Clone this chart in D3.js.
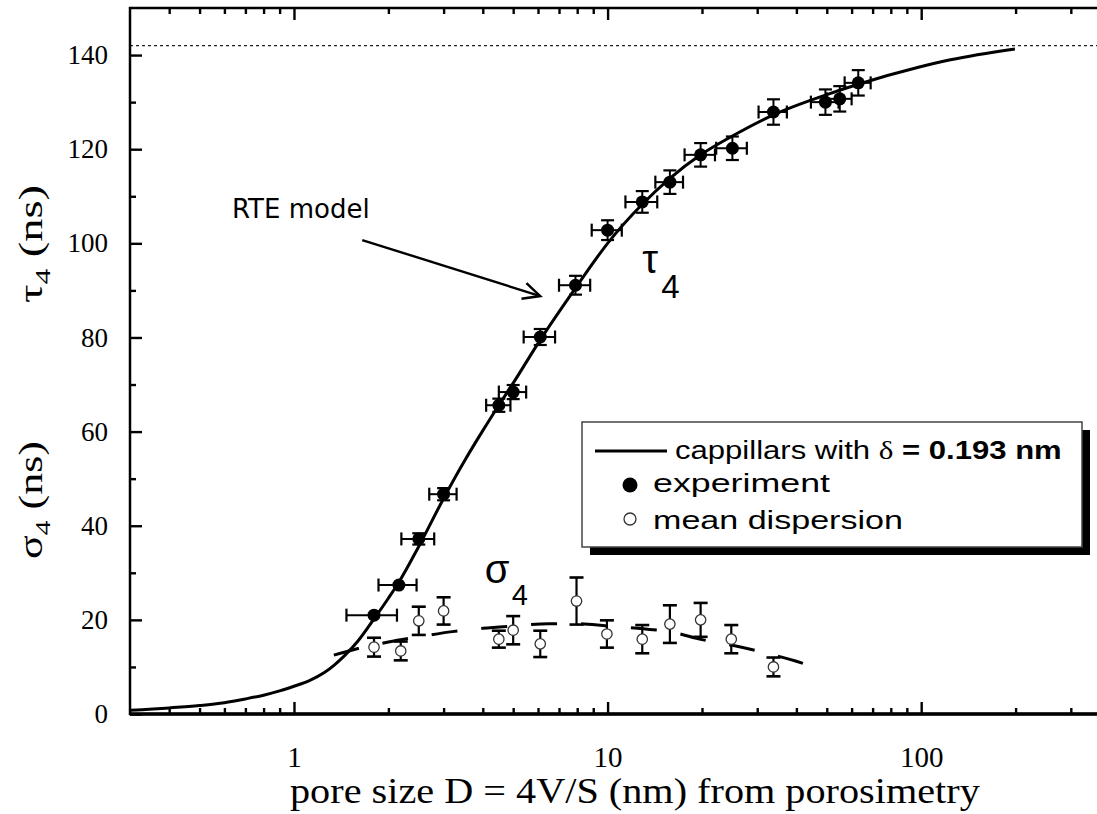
<!DOCTYPE html>
<html><head><meta charset="utf-8">
<script src="https://cdn.jsdelivr.net/npm/d3@7"></script>
<style>
body{margin:0;background:#fff} svg{display:block}
.serif{font-family:'Liberation Serif','Times New Roman',Times,serif}
.sans{font-family:'Liberation Sans',Arial,Helvetica,sans-serif}
</style>
</head><body>
<svg id="c" width="1097" height="814"></svg>
<script>
// ---- data ----
const curveX = [0.3, 0.4, 0.5, 0.6, 0.7, 0.8, 0.9, 1.0, 1.12, 1.25, 1.35, 1.45, 1.6, 1.8, 2.0, 2.16, 2.5, 3.0, 3.5, 4.0, 4.5, 5.0, 6.1, 7.9, 10, 12.9, 15.8, 19.8, 25, 33.8, 49.5, 63, 98, 124, 199];
const curveY = [0.8, 1.3, 1.8, 2.4, 3.2, 4.0, 4.9, 5.9, 7.1, 8.8, 10.5, 12.4, 15.5, 20.2, 24.6, 28.0, 35.6, 45.8, 53.8, 60.2, 65.6, 70.3, 79.5, 90.5, 100.0, 108.3, 113.8, 118.8, 122.8, 127.3, 131.5, 133.8, 137.4, 139.0, 141.3];

const sigCurveX = [1.34, 1.6, 2.0, 2.5, 3.2, 4.0, 5.0, 6.5, 8, 10, 13, 16, 20, 25, 30, 40, 46];
const sigCurveY = [12.5, 13.9, 15.3, 16.4, 17.5, 18.2, 18.7, 19.2, 19.2, 18.7, 18.1, 17.4, 15.8, 14.6, 13.4, 11.2, 9.9];

const tauX = [1.8, 2.16, 2.5, 3.0, 4.5, 5.0, 6.1, 7.9, 10, 12.9, 15.8, 19.8, 25, 33.8, 49.5, 55, 63];
const tauY = [21.0, 27.4, 37.2, 46.7, 65.6, 68.4, 80.1, 91.1, 102.8, 108.8, 113.0, 118.8, 120.2, 127.9, 130.0, 130.7, 134.1];
const tauXErr = [0.33, 0.3, 0.3, 0.3, 0.4, 0.5, 0.7, 0.9, 1.1, 1.5, 1.6, 2.2, 2.8, 3.5, 5, 5, 6];
const tauYErr = [0, 0, 1.2, 1.3, 1.4, 1.5, 1.7, 2.0, 2.1, 2.3, 2.5, 2.5, 2.5, 2.7, 2.7, 2.7, 2.7];

const sigX = [1.8, 2.19, 2.5, 3.0, 4.5, 5.0, 6.1, 7.96, 9.95, 12.9, 15.8, 19.8, 24.8, 33.8];
const sigY = [14.2, 13.4, 19.8, 21.9, 15.9, 17.8, 14.9, 24.0, 17.0, 15.9, 19.1, 20.0, 15.9, 10.0];
const sigErr = [2, 2, 3, 2.9, 1.8, 3, 2.8, 5, 2.9, 3, 4, 3.6, 3, 2];

const asymptote = 142;
const xMajor = [1, 10, 100];
const xMinor = [0.4,0.5,0.6,0.7,0.8,0.9,2,3,4,5,6,7,8,9,20,30,40,50,60,70,80,90,200,300];
const yMajor = [0, 20, 40, 60, 80, 100, 120, 140];
const yMinor = [10, 30, 50, 70, 90, 110, 130];

const arrowFrom = [1.65, 100.7], arrowTo = [6.1, 88.8];
const rteLabelPos = [0.634, 105.4];
const tauLabelPos = [12.9, 93.7];
const sigLabelPos = [4.06, 27.8];

// ---- chart ----
const svg = d3.select('#c');
const L = 130, R = 1110, T = 8, B = 714;
const x = d3.scaleLog().domain([0.3, 400]).range([L, R]);
const y = d3.scaleLinear().domain([0, 150]).range([B, T]);

function fitText(sel, w) {
  const nat = sel.node().getComputedTextLength();
  return nat > 0 ? w / nat : 1;
}

// dotted asymptote
svg.append('line').attr('x1', L).attr('x2', R).attr('y1', y(asymptote)).attr('y2', y(asymptote))
  .attr('stroke', '#222').attr('stroke-width', 1.3).attr('stroke-dasharray', '3,3');

const line = d3.line().x(d=>x(d[0])).y(d=>y(d[1])).curve(d3.curveMonotoneX);
svg.append('path').datum(curveX.map((v,i)=>[v, curveY[i]]))
  .attr('d', line).attr('fill', 'none').attr('stroke', '#000').attr('stroke-width', 3);

svg.append('path').datum(sigCurveX.map((v,i)=>[v, sigCurveY[i]]))
  .attr('d', line).attr('fill', 'none').attr('stroke', '#000').attr('stroke-width', 3)
  .attr('stroke-dasharray', '26,24');

// tau error bars
const gT = svg.append('g');
tauX.forEach((xv, i) => {
  const cx = x(xv), cy = y(tauY[i]);
  const x0 = x(xv - tauXErr[i]), x1 = x(xv + tauXErr[i]);
  gT.append('line').attr('x1', x0).attr('x2', x1).attr('y1', cy).attr('y2', cy).attr('stroke','#000').attr('stroke-width',2);
  [x0, x1].forEach(xx => gT.append('line').attr('x1', xx).attr('x2', xx).attr('y1', cy-6.5).attr('y2', cy+6.5).attr('stroke','#000').attr('stroke-width',2.2));
  if (tauYErr[i] > 0) {
    const y0 = y(tauY[i] - tauYErr[i]), y1 = y(tauY[i] + tauYErr[i]);
    gT.append('line').attr('x1', cx).attr('x2', cx).attr('y1', y0).attr('y2', y1).attr('stroke','#000').attr('stroke-width',2);
    [y0, y1].forEach(yy => gT.append('line').attr('x1', cx-6.5).attr('x2', cx+6.5).attr('y1', yy).attr('y2', yy).attr('stroke','#000').attr('stroke-width',2.2));
  }
});
gT.selectAll('circle').data(tauX).join('circle')
  .attr('cx', d=>x(d)).attr('cy', (d,i)=>y(tauY[i])).attr('r', 6.5).attr('fill', '#000');

// sigma error bars
const gS = svg.append('g');
sigX.forEach((xv, i) => {
  const cx = x(xv);
  const y0 = y(sigY[i] - sigErr[i]), y1 = y(sigY[i] + sigErr[i]);
  gS.append('line').attr('x1', cx).attr('x2', cx).attr('y1', y0).attr('y2', y1).attr('stroke','#000').attr('stroke-width',2.2);
  [y0, y1].forEach(yy => gS.append('line').attr('x1', cx-7).attr('x2', cx+7).attr('y1', yy).attr('y2', yy).attr('stroke','#000').attr('stroke-width',2.6));
});
gS.selectAll('circle').data(sigX).join('circle')
  .attr('cx', d=>x(d)).attr('cy', (d,i)=>y(sigY[i])).attr('r', 5.2)
  .attr('fill', '#fff').attr('stroke', '#333').attr('stroke-width', 1.3);

// axes
const tickStyle = g => { g.select('.domain').remove(); g.attr('font-family', null); g.selectAll('.tick line').attr('stroke','#000').attr('stroke-width',2.4); };
svg.append('g').attr('transform', `translate(0,${B})`)
  .call(d3.axisBottom(x).tickValues(xMajor).tickSize(-12).tickSizeOuter(0).tickPadding(32).tickFormat(d3.format('d')))
  .call(tickStyle)
  .call(g => g.selectAll('text').attr('class','serif').attr('font-size', 29).attr('fill','#000'));
svg.append('g').attr('transform', `translate(0,${B})`)
  .call(d3.axisBottom(x).tickValues(xMinor).tickSize(-6).tickFormat('')).call(tickStyle);
svg.append('g').attr('transform', `translate(0,${T})`)
  .call(d3.axisTop(x).tickValues(xMajor).tickSize(-12).tickFormat('')).call(tickStyle);
svg.append('g').attr('transform', `translate(0,${T})`)
  .call(d3.axisTop(x).tickValues(xMinor).tickSize(-6).tickFormat('')).call(tickStyle);
svg.append('g').attr('transform', `translate(${L},0)`)
  .call(d3.axisLeft(y).tickValues(yMajor).tickSize(-12).tickPadding(22).tickFormat(d3.format('d')))
  .call(tickStyle)
  .call(g => g.selectAll('text').attr('class','serif').attr('font-size', 27).attr('fill','#000'));
svg.append('g').attr('transform', `translate(${L},0)`)
  .call(d3.axisLeft(y).tickValues(yMinor).tickSize(-6).tickFormat('')).call(tickStyle);
svg.append('g').attr('transform', `translate(${R},0)`)
  .call(d3.axisRight(y).tickValues(yMajor).tickSize(-12).tickFormat('')).call(tickStyle);

// frame
svg.append('rect').attr('x', L).attr('y', T).attr('width', R-L).attr('height', B-T)
  .attr('fill','none').attr('stroke','#000').attr('stroke-width',2.5);
svg.append('line').attr('x1', L).attr('x2', R).attr('y1', B).attr('y2', B).attr('stroke','#000').attr('stroke-width',3.5);

// x title
{
  const t = svg.append('text').attr('class','serif').attr('font-size', 36).attr('fill','#000')
    .text('pore size D = 4V/S (nm) from porosimetry');
  t.attr('transform', `translate(290,803) scale(${fitText(t, 690)},1)`);
}
// y titles
function yTitle(letter, cy, len) {
  const t = svg.append('text').attr('class','serif').attr('font-size', 33).attr('fill','#000')
    .attr('text-anchor','middle');
  t.append('tspan').text(letter);
  t.append('tspan').attr('font-size', 22).attr('dy', 8).text('4');
  t.append('tspan').attr('dy', -8).text(' (ns)');
  t.attr('transform', `translate(42,${cy}) rotate(-90) scale(${fitText(t, len)},1)`);
}
yTitle('τ', 244, 118);
yTitle('σ', 500, 118);

// annotations
svg.append('text').attr('x', x(rteLabelPos[0])).attr('y', y(rteLabelPos[1]))
  .attr('font-family','"Comic Sans MS", "DejaVu Sans", sans-serif').attr('font-size', 26).attr('fill','#000').text('RTE model');
{
  const ax0 = x(arrowFrom[0]), ay0 = y(arrowFrom[1]), ax1 = x(arrowTo[0]), ay1 = y(arrowTo[1]);
  svg.append('line').attr('x1', ax0).attr('y1', ay0).attr('x2', ax1).attr('y2', ay1).attr('stroke','#000').attr('stroke-width',2.4);
  const ang = Math.atan2(ay1-ay0, ax1-ax0), hl = 19, ha = 0.45;
  const pts = [[ax1 - hl*Math.cos(ang-ha), ay1 - hl*Math.sin(ang-ha)], [ax1, ay1], [ax1 - hl*Math.cos(ang+ha), ay1 - hl*Math.sin(ang+ha)]];
  svg.append('path').attr('d', d3.line()(pts)).attr('fill','none').attr('stroke','#000').attr('stroke-width',2.4);
}
function greekLabel(letter, pos, subDx, subDy, subSize) {
  const gx = x(pos[0]), gy = y(pos[1]);
  svg.append('text').attr('x', gx).attr('y', gy).attr('class','sans')
    .attr('font-size', 40).attr('fill','#000').text(letter);
  svg.append('text').attr('x', gx + subDx).attr('y', gy + subDy).attr('class','sans')
    .attr('font-size', subSize).attr('fill','#000').text('4');
}
greekLabel('τ', tauLabelPos, 19, 25, 33);
greekLabel('σ', sigLabelPos, 27, 22, 29);

// legend
{
  const lg = svg.append('g');
  lg.append('rect').attr('x', 590).attr('y', 430).attr('width', 500).attr('height', 125).attr('fill','#000');
  lg.append('rect').attr('x', 582).attr('y', 422).attr('width', 500).attr('height', 125).attr('fill','#fff')
    .attr('stroke','#444').attr('stroke-width',1.5);
  lg.append('line').attr('x1', 595).attr('x2', 667).attr('y1', 451).attr('y2', 451).attr('stroke','#000').attr('stroke-width',3);
  lg.append('circle').attr('cx', 630).attr('cy', 485).attr('r', 7.5).attr('fill','#000');
  lg.append('circle').attr('cx', 630).attr('cy', 519).attr('r', 6).attr('fill','#fff').attr('stroke','#333').attr('stroke-width',1.3);
  const t1 = lg.append('text').attr('class','sans').attr('font-size', 25).attr('fill','#000');
  t1.append('tspan').text('cappillars with ');
  t1.append('tspan').attr('class','serif').text('δ');
  t1.append('tspan').attr('font-weight','bold').text(' = 0.193 nm');
  t1.attr('transform', `translate(675,459) scale(${fitText(t1, 387)},1)`);
  const t2 = lg.append('text').attr('class','sans').attr('font-size', 25).attr('fill','#000').text('experiment');
  t2.attr('transform', `translate(653,492) scale(${fitText(t2, 177)},1)`);
  const t3 = lg.append('text').attr('class','sans').attr('font-size', 25).attr('fill','#000').text('mean dispersion');
  t3.attr('transform', `translate(653,529) scale(${fitText(t3, 250)},1)`);
}
</script>
</body></html>
